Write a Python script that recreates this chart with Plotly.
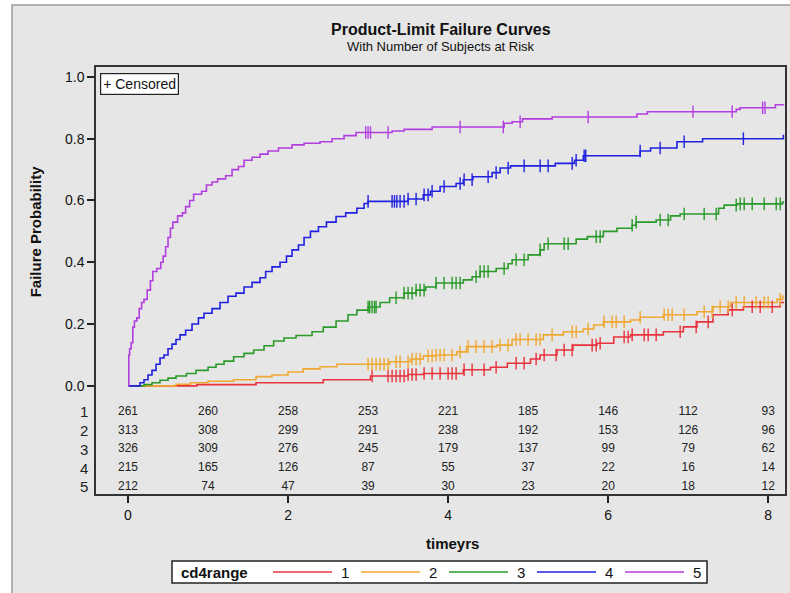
import numpy as np
import plotly.graph_objects as go

groups = ["1", "2", "3", "4", "5"]
colors = ["#e8323c", "#f0a830", "#2a9a2a", "#2020e0", "#b23ee0"]

# Step curves: event times and cumulative failure probability
g1_t = [0, 0.32, 0.86, 1.6, 2.44, 3.03, 3.5, 3.69, 4.19, 4.53, 4.74, 5.03, 5.15, 5.36, 5.56, 5.86, 6.07, 6.28, 6.69, 6.94, 7.11, 7.31, 7.5, 7.69, 8.15, 8.2]
g1_p = [0, 0.0, 0.004, 0.01, 0.02, 0.032, 0.037, 0.04, 0.052, 0.06, 0.073, 0.087, 0.1, 0.116, 0.132, 0.138, 0.158, 0.165, 0.175, 0.191, 0.207, 0.23, 0.246, 0.256, 0.27, 0.27]

g2_t = [0, 0.35, 0.6, 0.78, 1.0, 1.32, 1.6, 1.8, 2.0, 2.19, 2.4, 2.61, 3.27, 3.53, 3.69, 3.85, 4.11, 4.23, 4.61, 4.8, 5.19, 5.44, 5.69, 5.82, 5.94, 6.28, 6.4, 6.69, 7.11, 7.31, 7.53, 8.11, 8.18, 8.2]
g2_p = [0, 0.0, 0.005, 0.01, 0.015, 0.02, 0.03, 0.035, 0.045, 0.055, 0.062, 0.07, 0.078, 0.087, 0.097, 0.1, 0.11, 0.127, 0.132, 0.15, 0.165, 0.175, 0.184, 0.197, 0.207, 0.213, 0.222, 0.23, 0.24, 0.256, 0.27, 0.28, 0.29, 0.29]

g3_t = [0, 0.17, 0.2, 0.3, 0.4, 0.5, 0.6, 0.73, 0.85, 1.0, 1.1, 1.2, 1.32, 1.45, 1.57, 1.7, 1.82, 1.95, 2.1, 2.3, 2.44, 2.6, 2.75, 2.86, 3.0, 3.15, 3.27, 3.45, 3.6, 3.72, 3.85, 4.19, 4.3, 4.4, 4.6, 4.75, 4.8, 5.0, 5.15, 5.2, 5.6, 5.74, 5.94, 6.11, 6.3, 6.35, 6.6, 6.78, 6.9, 7.38, 7.45, 7.61, 8.18, 8.2]
g3_p = [0, 0.0, 0.004, 0.01, 0.018, 0.025, 0.032, 0.04, 0.05, 0.06, 0.07, 0.08, 0.094, 0.105, 0.116, 0.13, 0.145, 0.155, 0.163, 0.175, 0.19, 0.21, 0.23, 0.245, 0.255, 0.27, 0.285, 0.3, 0.31, 0.32, 0.333, 0.343, 0.353, 0.37, 0.38, 0.395, 0.408, 0.424, 0.44, 0.46, 0.475, 0.483, 0.5, 0.51, 0.52, 0.53, 0.537, 0.55, 0.556, 0.575, 0.585, 0.589, 0.595, 0.595]

g4_t = [0, 0.11, 0.15, 0.2, 0.25, 0.3, 0.35, 0.4, 0.45, 0.5, 0.55, 0.6, 0.65, 0.72, 0.8, 0.88, 0.95, 1.05, 1.15, 1.25, 1.35, 1.45, 1.55, 1.65, 1.72, 1.8, 1.9, 1.98, 2.05, 2.13, 2.2, 2.28, 2.38, 2.48, 2.6, 2.72, 2.86, 2.95, 3.0, 3.5, 3.69, 3.78, 3.9, 4.1, 4.19, 4.31, 4.55, 4.65, 4.78, 5.34, 5.58, 5.69, 6.4, 6.53, 6.86, 7.18, 8.19, 8.2]
g4_p = [0, 0.0, 0.01, 0.02, 0.035, 0.05, 0.07, 0.09, 0.1, 0.12, 0.135, 0.15, 0.165, 0.18, 0.2, 0.22, 0.235, 0.25, 0.27, 0.29, 0.3, 0.32, 0.335, 0.35, 0.37, 0.385, 0.4, 0.42, 0.44, 0.456, 0.48, 0.5, 0.515, 0.53, 0.548, 0.56, 0.575, 0.59, 0.597, 0.605, 0.618, 0.63, 0.645, 0.655, 0.667, 0.677, 0.69, 0.705, 0.712, 0.72, 0.73, 0.745, 0.76, 0.77, 0.79, 0.8, 0.81, 0.81]

g5_t = [0, 0.01, 0.02, 0.04, 0.06, 0.08, 0.11, 0.14, 0.17, 0.2, 0.24, 0.28, 0.31, 0.36, 0.41, 0.44, 0.47, 0.5, 0.53, 0.56, 0.62, 0.68, 0.72, 0.77, 0.82, 0.92, 0.98, 1.05, 1.12, 1.22, 1.3, 1.38, 1.45, 1.55, 1.65, 1.75, 1.88, 2.05, 2.2, 2.4, 2.55, 2.7, 2.85, 3.3, 3.45, 3.8, 4.7, 4.8, 4.93, 5.3, 6.36, 6.49, 7.6, 7.65, 8.09, 8.2]
g5_p = [0, 0.1, 0.12, 0.14, 0.19, 0.21, 0.22, 0.25, 0.27, 0.28, 0.31, 0.34, 0.37, 0.38, 0.4, 0.42, 0.45, 0.48, 0.51, 0.53, 0.55, 0.56, 0.58, 0.6, 0.62, 0.63, 0.65, 0.66, 0.67, 0.68, 0.7, 0.71, 0.73, 0.74, 0.75, 0.76, 0.77, 0.78, 0.785, 0.79, 0.8, 0.81, 0.82, 0.825, 0.83, 0.838, 0.85, 0.855, 0.864, 0.87, 0.88, 0.887, 0.895, 0.9, 0.91, 0.91]

# Censoring times
c1 = [3.05, 3.25, 3.3, 3.35, 3.4, 3.45, 3.5, 3.55, 3.6, 3.7, 3.8, 3.9, 4.0, 4.05, 4.1, 4.2, 4.3, 4.45, 4.6, 4.85, 4.95, 5.1, 5.2, 5.35, 5.45, 5.55, 5.8, 5.85, 5.9, 6.2, 6.25, 6.3, 6.45, 6.5, 6.6, 6.9, 7.1, 7.25, 7.55, 7.8, 7.9, 8.05]
c2 = [3.0, 3.05, 3.1, 3.15, 3.2, 3.25, 3.35, 3.4, 3.5, 3.55, 3.6, 3.65, 3.75, 3.8, 3.85, 3.9, 3.95, 4.05, 4.15, 4.25, 4.35, 4.45, 4.55, 4.65, 4.75, 4.85, 4.9, 5.0, 5.1, 5.15, 5.3, 5.55, 5.6, 5.75, 5.95, 6.05, 6.1, 6.2, 6.4, 6.7, 6.75, 6.8, 6.95, 7.2, 7.3, 7.4, 7.5, 7.6, 7.7, 7.85, 7.95, 8.0, 8.15]
c3 = [3.0, 3.02, 3.05, 3.08, 3.1, 3.35, 3.45, 3.5, 3.55, 3.6, 3.65, 3.7, 3.85, 3.95, 4.05, 4.1, 4.15, 4.35, 4.4, 4.45, 4.5, 4.7, 4.85, 4.95, 5.15, 5.25, 5.45, 5.5, 5.85, 5.9, 6.3, 6.35, 6.65, 6.75, 6.95, 7.2, 7.35, 7.6, 7.65, 7.7, 7.8, 7.95, 8.1, 8.15]
c4 = [3.0, 3.3, 3.33, 3.36, 3.4, 3.45, 3.5, 3.6, 3.7, 3.75, 3.8, 3.95, 4.15, 4.2, 4.3, 4.5, 4.6, 4.75, 4.95, 5.15, 5.25, 5.55, 5.6, 5.7, 5.72, 6.4, 6.65, 6.95, 7.69]
c5 = [2.97, 3.0, 3.03, 3.25, 4.15, 4.69, 4.9, 5.75, 7.06, 7.55, 7.93, 7.96]

# Number at risk
risk_times = [0, 1, 2, 3, 4, 5, 6, 7, 8]
risk1 = [261, 260, 258, 253, 221, 185, 146, 112, 93]
risk2 = [313, 308, 299, 291, 238, 192, 153, 126, 96]
risk3 = [326, 309, 276, 245, 179, 137, 99, 79, 62]
risk4 = [215, 165, 126, 87, 55, 37, 22, 16, 14]
risk5 = [212, 74, 47, 39, 30, 23, 20, 18, 12]

x_ticks = [0, 2, 4, 6, 8]
y_ticks = [0.0, 0.2, 0.4, 0.6, 0.8, 1.0]

curves_t = [g1_t, g2_t, g3_t, g4_t, g5_t]
curves_p = [g1_p, g2_p, g3_p, g4_p, g5_p]
censors = [c1, c2, c3, c4, c5]
risks = [risk1, risk2, risk3, risk4, risk5]

FONT = "Arial, Liberation Sans, sans-serif"
W, H = 790, 593
ML, MR, MT, MB = 96, 5, 67, 99
PW, PH = W - ML - MR, H - MT - MB


def px(xp):
    return (xp - ML) / PW


def py(yp):
    return (H - MB - yp) / PH


fig = go.Figure()

for i in range(5):
    fig.add_trace(go.Scatter(
        x=curves_t[i], y=curves_p[i], mode="lines", line_shape="hv",
        line=dict(color=colors[i], width=1.6), name=groups[i],
        showlegend=False, hoverinfo="skip"))

for i in range(5):
    t = np.array(curves_t[i]); p = np.array(curves_p[i])
    ct = np.array(censors[i])
    idx = np.searchsorted(t, ct, side="right") - 1
    fig.add_trace(go.Scatter(
        x=ct, y=p[idx], mode="markers",
        marker=dict(symbol="line-ns", size=9, color=colors[i],
                    line=dict(color=colors[i], width=1.4)),
        showlegend=False, hoverinfo="skip"))

# At-risk table rows (inside the frame, below 0)
row_y = [-0.084, -0.145, -0.205, -0.266, -0.327]
for i in range(5):
    fig.add_trace(go.Scatter(
        x=risk_times, y=[row_y[i]] * len(risk_times), mode="text",
        text=[str(v) for v in risks[i]], textposition="middle center",
        textfont=dict(family=FONT, size=12, color="#222"),
        showlegend=False, hoverinfo="skip", cliponaxis=False))
    fig.add_annotation(xref="paper", yref="y", x=px(90), y=row_y[i],
                       text=groups[i], showarrow=False, xanchor="right", yanchor="middle",
                       font=dict(family=FONT, size=15, color="#222"))

# Gray panel background
fig.add_shape(type="rect", xref="paper", yref="paper",
              x0=px(12), x1=px(800), y0=py(600), y1=py(5),
              fillcolor="#e6e6e6", line=dict(color="#9a9a9a", width=1.5),
              layer="below")

fig.add_annotation(xref="paper", yref="paper", x=0.5, y=py(30),
                   text="<b>Product-Limit Failure Curves</b>", showarrow=False,
                   xanchor="center", yanchor="middle",
                   font=dict(family=FONT, size=16, color="#111"))
fig.add_annotation(xref="paper", yref="paper", x=0.5, y=py(47),
                   text="With Number of Subjects at Risk", showarrow=False,
                   xanchor="center", yanchor="middle",
                   font=dict(family=FONT, size=13, color="#111"))
fig.add_annotation(xref="paper", yref="y", x=px(35), y=0.5,
                   text="<b>Failure Probability</b>", showarrow=False, textangle=-90,
                   xanchor="center", yanchor="middle",
                   font=dict(family=FONT, size=15, color="#111"))
fig.add_annotation(xref="paper", yref="paper", x=px(452), y=py(543),
                   text="<b>timeyrs</b>", showarrow=False,
                   xanchor="center", yanchor="middle",
                   font=dict(family=FONT, size=15, color="#111"))
fig.add_annotation(xref="paper", yref="paper", x=px(100), y=py(73),
                   text="+ Censored", showarrow=False, xanchor="left", yanchor="top",
                   bordercolor="#222", borderwidth=1.2, borderpad=2, bgcolor="white",
                   font=dict(family=FONT, size=14, color="#111"))

# Legend box (drawn manually to match the SAS layout)
fig.add_shape(type="rect", xref="paper", yref="paper",
              x0=px(172), x1=px(707), y0=py(583), y1=py(561),
              fillcolor="white", line=dict(color="#222", width=1.5))
fig.add_annotation(xref="paper", yref="paper", x=px(179), y=py(572),
                   text="<b>cd4range</b>", showarrow=False, xanchor="left", yanchor="middle",
                   font=dict(family=FONT, size=15, color="#111"))
for i in range(5):
    x0 = 273 + 88 * i
    fig.add_shape(type="line", xref="paper", yref="paper",
                  x0=px(x0), x1=px(x0 + 59), y0=py(572), y1=py(572),
                  line=dict(color=colors[i], width=1.6))
    fig.add_annotation(xref="paper", yref="paper", x=px(x0 + 72), y=py(572),
                       text=groups[i], showarrow=False, xanchor="center", yanchor="middle",
                       font=dict(family=FONT, size=15, color="#111"))

fig.update_layout(
    width=W, height=H,
    margin=dict(l=ML, r=MR, t=MT, b=MB, autoexpand=False),
    paper_bgcolor="white", plot_bgcolor="white",
    font=dict(family=FONT, color="#111"),
    xaxis=dict(range=[-0.4, 8.21], tickvals=x_ticks, ticks="outside", ticklen=7,
               tickwidth=1.5, tickcolor="#222", showgrid=False, zeroline=False,
               showline=True, linecolor="#333", linewidth=1.5, mirror=True,
               tickfont=dict(family=FONT, size=14, color="#111")),
    yaxis=dict(range=[-0.35, 1.032], tickvals=y_ticks, tickformat=".1f",
               ticks="outside", ticklen=7, tickwidth=1.5, tickcolor="#222",
               showgrid=False, zeroline=False, showline=True, linecolor="#333",
               linewidth=1.5, mirror=True,
               tickfont=dict(family=FONT, size=14, color="#111")),
    showlegend=False,
)

fig.write_html("out.html", config={"displayModeBar": False},
               post_script="document.body.style.margin='0';document.body.style.overflow='hidden';")
